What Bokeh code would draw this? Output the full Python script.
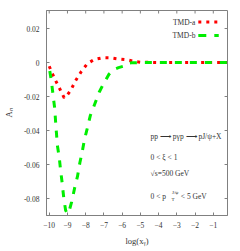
from bokeh.plotting import figure
from bokeh.models import FixedTicker, Label, Range1d
from bokeh.embed import file_html
from bokeh.resources import INLINE

# ---------------- data ----------------
tmd_a_x = [-10.0, -9.85, -9.7, -9.45, -9.18, -9.0, -8.83, -8.55, -8.24, -7.92,
           -7.53, -7.07, -6.6, -6.16, -5.75, -5.3, -5.0, -4.0, -3.0, -2.0, -1.0, -0.25]
tmd_a_y = [-0.0022, -0.006, -0.0096, -0.0149, -0.0208, -0.019, -0.0165, -0.0106, -0.0053, -0.0008,
           0.0018, 0.0028, 0.0027, 0.0020, 0.0016, 0.0006, 0.0002, 0.0, 0.0, 0.0, 0.0, 0.0]

tmd_b_x = [-9.97, -9.88, -9.78, -9.7, -9.63, -9.55, -9.45, -9.37, -9.3, -9.2,
           -9.1, -9.0, -8.9, -8.77, -8.59, -8.45, -8.32, -8.2, -8.06, -7.92,
           -7.74, -7.56, -7.26, -7.07, -6.73, -6.46, -6.2, -5.93, -5.76, -5.5,
           -5.0, -4.0, -3.0, -2.0, -1.0, -0.25]
tmd_b_y = [-0.005, -0.011, -0.020, -0.027, -0.038, -0.049, -0.056, -0.064, -0.070, -0.080,
           -0.087, -0.089, -0.087, -0.082, -0.073, -0.067, -0.059, -0.053, -0.045, -0.039,
           -0.031, -0.026, -0.0175, -0.0135, -0.007, -0.0041, -0.003, -0.0022, -0.0008, -0.0002,
           0.0, 0.0, 0.0, 0.0, 0.0, 0.0]

series_names = ["TMD-a", "TMD-b"]
series_colors = ["#ff0000", "#00ee00"]

x_ticks = [-10, -9, -8, -7, -6, -5, -4, -3, -2, -1]
x_tick_labels = ["\u221210", "\u22129", "\u22128", "\u22127", "\u22126",
                 "\u22125", "\u22124", "\u22123", "\u22122", "\u22121"]
y_ticks = [0.02, 0.0, -0.02, -0.04, -0.06, -0.08]
y_tick_labels = ["0.02", "0", "-0.02", "-0.04", "-0.06", "-0.08"]

x_title = "log(x\u1d67)"
y_title = "A\u2099"
note_lines = ["pp \u27f6 p\u03b3p \u27f6 pJ/\u03c8+X", "0 < \u03be < 1", "\u221as=500 GeV"]
note_pt = ["0 < p", "T", "J/\u03c8", " < 5 GeV"]

# ---------------- layout (pixel positions = page positions) ----------------
X0, X1 = -10.15, -0.22
Y0, Y1 = -0.09, 0.0306
W, H = 240, 251
ML, MR, MT, MB = 41, 13, 10, 36
FW, FH = W - ML - MR, H - MT - MB


def dx(px):  # page pixel -> data x
    return X0 + (px - ML) / FW * (X1 - X0)


def dy(py):  # page pixel -> data y
    return Y1 - (py - MT) / FH * (Y1 - Y0)


FONT = "Liberation Serif"
GREY = "#808080"
TXT = "#333333"
TICK = 3  # px

p = figure(width=W, height=H, output_backend="svg", toolbar_location=None,
           x_range=Range1d(X0, X1), y_range=Range1d(Y0, Y1),
           min_border_left=ML, min_border_right=MR, min_border_top=MT, min_border_bottom=MB)
p.xgrid.visible = False
p.ygrid.visible = False
p.outline_line_color = GREY
p.background_fill_color = "white"
p.border_fill_color = "white"

for ax in (p.xaxis[0], p.yaxis[0]):
    ax.axis_line_color = GREY
    ax.major_tick_line_color = GREY
    ax.major_tick_in = TICK
    ax.major_tick_out = 0
    ax.minor_tick_line_color = None
    ax.major_label_text_font = FONT
    ax.major_label_text_font_size = "7.5px"
    ax.major_label_text_color = TXT
    ax.axis_label_text_font = FONT
    ax.axis_label_text_font_style = "normal"
    ax.axis_label_text_font_size = "8.5px"
    ax.axis_label_text_color = TXT

p.xaxis[0].ticker = FixedTicker(ticks=x_ticks)
p.xaxis[0].major_label_overrides = {t: l for t, l in zip(x_ticks, x_tick_labels)}
p.xaxis[0].major_label_standoff = 6
p.xaxis[0].axis_label = x_title
p.xaxis[0].axis_label_standoff = 5
p.yaxis[0].ticker = FixedTicker(ticks=y_ticks)
p.yaxis[0].major_label_overrides = {t: l for t, l in zip(y_ticks, y_tick_labels)}
p.yaxis[0].major_label_standoff = 7
p.yaxis[0].axis_label = y_title
p.yaxis[0].axis_label_standoff = 7

# mirrored inward ticks on top and right frame edges
ty = (Y1 - Y0) / FH * TICK
tx = (X1 - X0) / FW * TICK
p.segment(x0=x_ticks, y0=[Y1] * len(x_ticks), x1=x_ticks, y1=[Y1 - ty] * len(x_ticks),
          line_color=GREY, line_width=1)
p.segment(x0=[X1] * len(y_ticks), y0=y_ticks, x1=[X1 - tx] * len(y_ticks), y1=y_ticks,
          line_color=GREY, line_width=1)

# curves
p.line(tmd_a_x, tmd_a_y, line_color=series_colors[0], line_width=3, line_dash="3 5")
p.line(tmd_b_x, tmd_b_y, line_color=series_colors[1], line_width=3, line_dash="7 8")

# legend (text left, sample right)
for name, col, dash, row in zip(series_names, series_colors, ["3 5", "8 8"], [21.5, 35]):
    p.add_layout(Label(x=dx(194), y=dy(row), text=name, text_align="right",
                       text_baseline="middle", text_font=FONT, text_font_size="7.5px",
                       text_color=TXT))
    p.line([dx(197), dx(218)], [dy(row), dy(row)], line_color=col, line_width=3,
           line_dash=dash)

# annotation block
for txt, row in zip(note_lines, [136, 157, 173]):
    p.add_layout(Label(x=dx(148), y=dy(row), text=txt, text_align="left",
                       text_baseline="middle", text_font=FONT, text_font_size="7.5px",
                       text_color=TXT))
row4 = 196
p.add_layout(Label(x=dx(148), y=dy(row4), text=note_pt[0], text_align="left",
                   text_baseline="middle", text_font=FONT, text_font_size="7.5px", text_color=TXT))
p.add_layout(Label(x=dx(169.5), y=dy(row4 + 3), text=note_pt[1], text_align="left",
                   text_baseline="middle", text_font=FONT, text_font_size="5px", text_color=TXT))
p.add_layout(Label(x=dx(170), y=dy(row4 - 4.5), text=note_pt[2], text_align="left",
                   text_baseline="middle", text_font=FONT, text_font_size="5px", text_color=TXT))
p.add_layout(Label(x=dx(179), y=dy(row4), text=note_pt[3], text_align="left",
                   text_baseline="middle", text_font=FONT, text_font_size="7.5px", text_color=TXT))

open("out.html", "w").write(file_html(p, INLINE))
